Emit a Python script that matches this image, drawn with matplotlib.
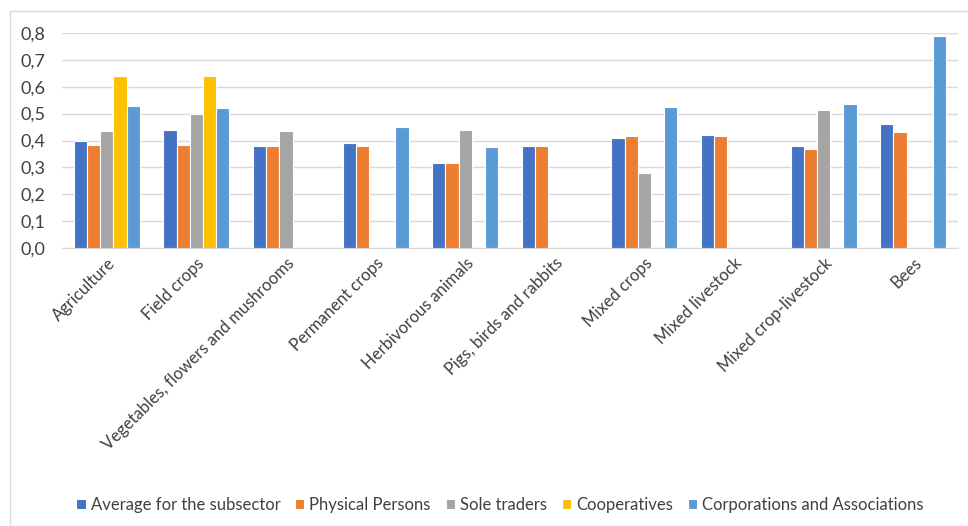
import numpy as np
import matplotlib
matplotlib.use("Agg")
import matplotlib.pyplot as plt
from matplotlib.patches import Rectangle

plt.rcParams['font.family'] = ['Lato', 'DejaVu Sans']

categories = ["Agriculture", "Field crops", "Vegetables, flowers and mushrooms",
              "Permanent crops", "Herbivorous animals", "Pigs, birds and rabbits",
              "Mixed crops", "Mixed livestock", "Mixed crop-livestock", "Bees"]
series = ["Average for the subsector", "Physical Persons", "Sole traders",
          "Cooperatives", "Corporations and Associations"]
nan = np.nan
average = [0.40, 0.44, 0.38, 0.39, 0.315, 0.38, 0.41, 0.42, 0.38, 0.46]
physical = [0.385, 0.385, 0.38, 0.38, 0.315, 0.38, 0.415, 0.415, 0.37, 0.43]
sole = [0.435, 0.50, 0.435, nan, 0.44, nan, 0.28, nan, 0.515, nan]
coops = [0.64, 0.64, nan, nan, nan, nan, nan, nan, nan, nan]
corps = [0.53, 0.52, nan, 0.45, 0.375, nan, 0.525, nan, 0.535, 0.79]
colors = ["#4472C4", "#ED7D31", "#A5A5A5", "#FFC000", "#5B9BD5"]
yticks = [0.0, 0.1, 0.2, 0.3, 0.4, 0.5, 0.6, 0.7, 0.8]

fig = plt.figure(figsize=(9.68, 5.26), dpi=100)
fig.patches.append(Rectangle((10 / 968, 0), 1.0, 1 - 11 / 526, transform=fig.transFigure,
                             fill=False, edgecolor="#D9D9D9", linewidth=1))
ax = fig.add_axes([62 / 968, 1 - 248 / 526, 896 / 968, 215 / 526])

x = np.arange(len(categories))
slot = 0.147
data = [average, physical, sole, coops, corps]
for i, (vals, col, name) in enumerate(zip(data, colors, series)):
    ax.bar(x + (i - 2) * slot, vals, width=slot, color=col, edgecolor="white",
           linewidth=0.8, label=name, zorder=3)

ax.set_xlim(-0.5, len(categories) - 0.5)
ax.set_ylim(0, 0.8)
ax.set_yticks(yticks)
ax.set_yticklabels([f"{v:.1f}".replace(".", ",") for v in yticks], fontsize=13, color="#404040")
ax.yaxis.grid(True, color="#D9D9D9", linewidth=1, zorder=0)
ax.tick_params(axis="y", length=0, pad=12)
ax.tick_params(axis="x", length=0, pad=5)
ax.set_xticks(x)
ax.set_xticklabels(categories, rotation=45, ha="right", rotation_mode="anchor",
                   fontsize=12, color="#404040")
for s in ["top", "right", "left"]:
    ax.spines[s].set_visible(False)
ax.spines["bottom"].set_color("#D9D9D9")

leg = fig.legend(loc="center", bbox_to_anchor=(500 / 968, 1 - 505 / 526), ncol=5,
                 frameon=False, fontsize=12, handlelength=0.55, handleheight=0.55,
                 handletextpad=0.3, columnspacing=0.9, labelcolor="#404040")

fig.savefig("out.png", dpi=100)
